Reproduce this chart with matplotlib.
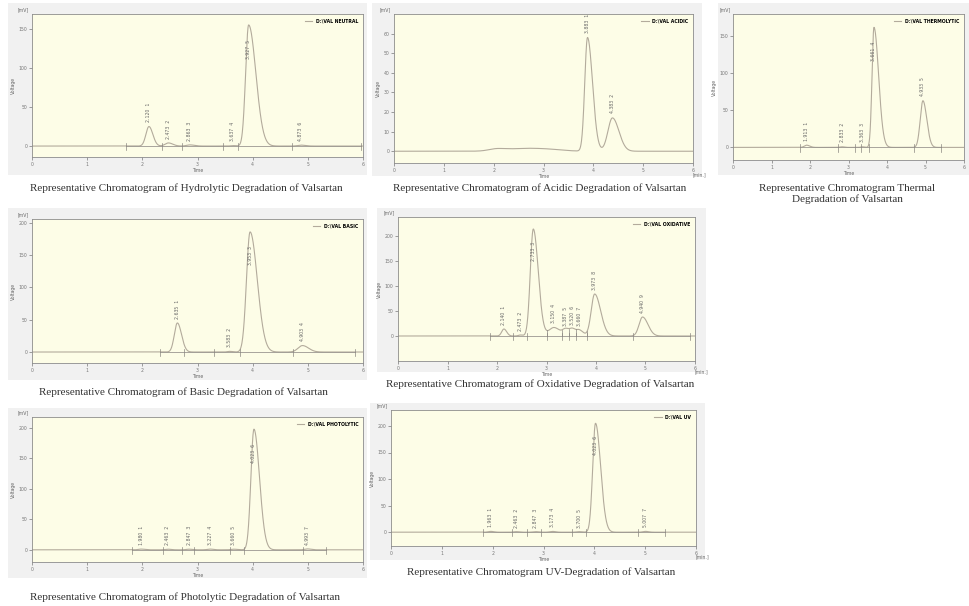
import numpy as np
import matplotlib
matplotlib.use("Agg")
import matplotlib.pyplot as plt
from matplotlib.patches import Rectangle

# peak tables (rt [min], height [mV], left/right width)
neutral_rt = [2.120, 2.473, 2.863, 3.637, 3.927, 4.873]
neutral_h = [25, 4, 1.5, 0.6, 155, 1.2]
neutral_wl = [0.055, 0.06, 0.06, 0.04, 0.055, 0.06]
neutral_wr = [0.07, 0.08, 0.08, 0.05, 0.13, 0.08]
neutral_marks = [1.70, 2.35, 2.72, 3.46, 3.73, 4.71, 5.96]

acidic_rt = [3.883, 4.383]
acidic_h = [58, 17]
acidic_wl = [0.055, 0.09]
acidic_wr = [0.1, 0.13]
acidic_marks = []
acidic_hump_rt = [2.05, 2.55, 3.1]
acidic_hump_h = [0.9, 1.3, 0.8]
acidic_hump_w = [0.15, 0.35, 0.3]

thermal_rt = [1.913, 2.833, 3.363, 3.661, 4.933]
thermal_h = [3, 0.8, 0.8, 162, 63]
thermal_wl = [0.06, 0.05, 0.04, 0.05, 0.07]
thermal_wr = [0.08, 0.06, 0.05, 0.12, 0.1]
thermal_marks = [1.75, 2.74, 3.16, 3.32, 3.52, 4.70, 5.40]

basic_rt = [2.635, 3.583, 3.953, 4.903]
basic_h = [45, 1, 186, 10]
basic_wl = [0.055, 0.04, 0.065, 0.08]
basic_wr = [0.075, 0.05, 0.13, 0.11]
basic_marks = [2.32, 2.75, 3.30, 3.77, 4.73, 5.85]

oxid_rt = [2.140, 2.473, 2.733, 3.150, 3.387, 3.520, 3.660, 3.973, 4.940]
oxid_h = [14, 2, 214, 17, 12, 14, 12, 84, 38]
oxid_wl = [0.045, 0.04, 0.06, 0.1, 0.06, 0.06, 0.06, 0.07, 0.07]
oxid_wr = [0.055, 0.05, 0.1, 0.12, 0.06, 0.06, 0.08, 0.12, 0.11]
oxid_marks = [1.86, 2.32, 2.61, 3.01, 3.31, 3.45, 3.60, 3.82, 4.75, 5.90]
oxid_drops = [3.01, 3.31, 3.45, 3.60, 3.82]

photo_rt = [1.980, 2.463, 2.847, 3.227, 3.660, 4.023, 4.993]
photo_h = [1.2, 1, 1, 1.2, 1, 198, 1.5]
photo_wl = [0.05, 0.05, 0.05, 0.05, 0.05, 0.055, 0.05]
photo_wr = [0.06, 0.06, 0.06, 0.06, 0.06, 0.1, 0.06]
photo_marks = [1.81, 2.37, 2.72, 2.93, 3.59, 3.84, 4.91, 5.33]

uv_rt = [1.963, 2.463, 2.847, 3.173, 3.700, 4.023, 5.007]
uv_h = [1.5, 1, 1, 1.5, 1, 205, 1.5]
uv_wl = [0.05, 0.05, 0.05, 0.05, 0.05, 0.055, 0.05]
uv_wr = [0.06, 0.06, 0.06, 0.06, 0.06, 0.1, 0.06]
uv_marks = [1.80, 2.38, 2.67, 2.95, 3.56, 3.84, 4.85, 5.39]

W, H = 969, 606
line_col = '#b3ab9c'
axis_col = '#8c8c8c'
tiny = 3.3

fig = plt.figure(figsize=(W / 100, H / 100), dpi=100)
fig.patch.set_facecolor('white')


def trace(t, rt, h, wl, wr):
    y = np.zeros_like(t)
    for r, a, sl, sr in zip(rt, h, wl, wr):
        s = np.where(t < r, sl, sr)
        y += a * np.exp(-0.5 * ((t - r) / s) ** 2)
    return y


def panel(box, outer, ylim, yticks, rt, h, wl, wr, marks, name,
          caption, cap_xy, minlabel=False, humps=None, drops=None):
    l, t, r, b = box
    ol, ot, orr, ob = outer
    fig.patches.append(Rectangle((ol / W, 1 - ob / H), (orr - ol) / W, (ob - ot) / H,
                                 transform=fig.transFigure, facecolor='#f1f1f1',
                                 edgecolor='none', zorder=-5))
    ax = fig.add_axes([l / W, 1 - b / H, (r - l) / W, (b - t) / H])
    ax.set_facecolor('#fdfde7')
    tt = np.linspace(0, 6, 1800)
    yy = trace(tt, rt, h, wl, wr)
    if humps is not None:
        yy += trace(tt, humps[0], humps[1], humps[2], humps[2])
    ax.plot(tt, yy, color=line_col, lw=0.8, label=name)
    span = ylim[1] - ylim[0]
    if marks:
        ax.plot([marks[0], marks[-1]], [0, 0], color='#9a9690', lw=0.6)
        for m in marks:
            ax.plot([m, m], [-0.03 * span, 0.02 * span], color='#8a8680', lw=0.5)
    if drops:
        for d in drops:
            ax.plot([d, d], [0, np.interp(d, tt, yy)], color='#8a8680', lw=0.5)
    # peak labels: retention time + peak number, rotated
    for i, (r_, a) in enumerate(zip(rt, h)):
        txt = "%.3f  %d" % (r_, i + 1)
        if a + 0.19 * span > ylim[1] + 0.08 * span:
            ax.text(r_, 0.88 * a, txt, rotation=90, ha='center', va='top',
                    fontsize=tiny, color='#666')
        else:
            ax.text(r_, a + 0.03 * span, txt, rotation=90, ha='center', va='bottom',
                    fontsize=tiny, color='#666', clip_on=False)
    ax.set_xlim(0, 6)
    ax.set_ylim(*ylim)
    ax.set_xticks(range(7))
    ax.set_yticks(yticks)
    ax.tick_params(labelsize=tiny, length=2, width=0.5, colors='#777', pad=1.5)
    for s in ax.spines.values():
        s.set_color(axis_col)
        s.set_linewidth(0.6)
    ax.set_xlabel("Time", fontsize=tiny, color='#666', labelpad=1)
    ax.set_ylabel("Voltage", fontsize=tiny, color='#666', labelpad=2)
    ax.text(-0.01, 1.01, "[mV]", transform=ax.transAxes, fontsize=tiny,
            color='#666', ha='right', va='bottom')
    if minlabel:
        ax.text(1.0, -0.06, "[min.]", transform=ax.transAxes, fontsize=tiny,
                color='#666', ha='left', va='top')
    ax.legend(loc='upper right', frameon=False, handlelength=1.6,
              borderaxespad=0.6, prop={'size': tiny, 'weight': 'bold'})
    fig.text(cap_xy[0] / W, 1 - cap_xy[1] / H, caption, ha='center', va='center',
             fontsize=8, family='Liberation Serif', color='#333', linespacing=1.15)
    return ax


panel((32, 14, 363, 157), (8, 3, 367, 175), (-14, 169), [0, 50, 100, 150],
      neutral_rt, neutral_h, neutral_wl, neutral_wr, neutral_marks, r"D:\VAL NEUTRAL",
      "Representative Chromatogram of Hydrolytic Degradation of Valsartan", (186, 188))

panel((394, 14, 693, 163), (372, 3, 702, 176), (-6, 70), [0, 10, 20, 30, 40, 50, 60],
      acidic_rt, acidic_h, acidic_wl, acidic_wr, acidic_marks, r"D:\VAL ACIDIC",
      "Representative Chromatogram of Acidic Degradation of Valsartan", (540, 188),
      minlabel=True, humps=(acidic_hump_rt, acidic_hump_h, acidic_hump_w))

panel((733, 14, 964, 160), (718, 3, 969, 175), (-17, 180), [0, 50, 100, 150],
      thermal_rt, thermal_h, thermal_wl, thermal_wr, thermal_marks, r"D:\VAL THERMOLYTIC",
      "Representative Chromatogram Thermal\nDegradation of Valsartan", (847, 194))

panel((32, 219, 363, 363), (8, 208, 367, 380), (-17, 206), [0, 50, 100, 150, 200],
      basic_rt, basic_h, basic_wl, basic_wr, basic_marks, r"D:\VAL BASIC",
      "Representative Chromatogram of Basic Degradation of Valsartan", (183, 392))

panel((398, 217, 695, 361), (377, 208, 706, 372), (-50, 238), [0, 50, 100, 150, 200],
      oxid_rt, oxid_h, oxid_wl, oxid_wr, oxid_marks, r"D:\VAL OXIDATIVE",
      "Representative Chromatogram of Oxidative Degradation of Valsartan", (540, 384),
      minlabel=True, drops=oxid_drops)

panel((32, 417, 363, 562), (8, 408, 367, 578), (-20, 218), [0, 50, 100, 150, 200],
      photo_rt, photo_h, photo_wl, photo_wr, photo_marks, r"D:\VAL PHOTOLYTIC",
      "Representative Chromatogram of Photolytic Degradation of Valsartan", (185, 597))

panel((391, 410, 696, 546), (370, 403, 705, 560), (-26, 230), [0, 50, 100, 150, 200],
      uv_rt, uv_h, uv_wl, uv_wr, uv_marks, r"D:\VAL UV",
      "Representative Chromatogram UV-Degradation of Valsartan", (541, 572),
      minlabel=True)

fig.savefig("out.png", dpi=100)
